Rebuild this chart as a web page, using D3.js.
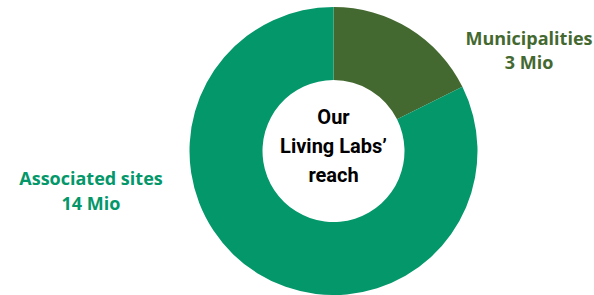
<!DOCTYPE html>
<html><head><meta charset="utf-8">
<script src="https://cdn.jsdelivr.net/npm/d3@7"></script>
<style>body{margin:0;background:#fff}svg{display:block}</style>
</head><body>
<svg id="c" width="594" height="295"></svg>
<script>
const categories = ["Municipalities", "Associated sites"];
const values = [3, 14];
const valueLabels = ["3 Mio", "14 Mio"];
const colors = ["#446930", "#03976a"];
const centerTitle = ["Our", "Living Labs’", "reach"];

const svg = d3.select("#c");
const cx = 333.5, cy = 151, R = 144, r = 71;
const pie = d3.pie().sort(null).value(d => d)(values);
const arc = d3.arc().innerRadius(r).outerRadius(R);
const g = svg.append("g").attr("transform", `translate(${cx},${cy})`);
g.selectAll("path").data(pie).join("path").attr("d", arc).attr("fill", (d, i) => colors[i]);

const ct = g.append("text").attr("text-anchor", "middle")
  .attr("font-family", "Roboto").attr("font-weight", 700).attr("font-size", 20).attr("fill", "#000");
centerTitle.forEach((t, i) => ct.append("tspan").attr("x", 0).attr("y", -27 + i * 29).text(t));

const labelPos = [[529, 44.5], [91, 185]];
const lineGap = [24, 25];
categories.forEach((c, i) => {
  const t = svg.append("text").attr("text-anchor", "middle")
    .attr("font-family", "Open Sans").attr("font-weight", 700).attr("font-size", 18).attr("fill", colors[i]);
  t.append("tspan").attr("x", labelPos[i][0]).attr("y", labelPos[i][1]).text(c);
  t.append("tspan").attr("x", labelPos[i][0]).attr("y", labelPos[i][1] + lineGap[i]).text(valueLabels[i]);
});
</script>
</body></html>
